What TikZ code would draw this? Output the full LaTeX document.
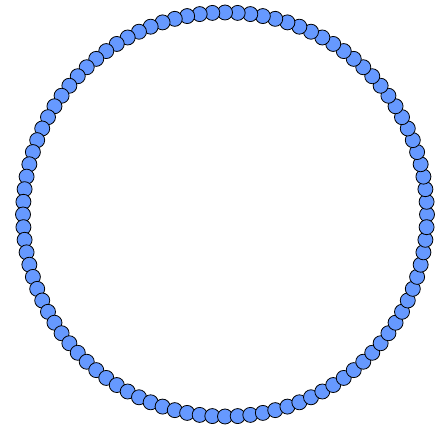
\documentclass[tikz,border=0pt]{standalone}
\usepackage{tikz}
\usetikzlibrary{calc}
\definecolor{beadBlue}{HTML}{6699FF}

\begin{document}
\begin{tikzpicture}[x=0.0264cm, y=0.0264cm,
    bead/.style={circle, draw=black, line width=0.6pt, fill=beadBlue, inner sep=0pt, minimum size=0.396cm}]
                \useasboundingbox (0,0) rectangle (446,427);
                \coordinate (ringCentre) at (225,212.5);
                \foreach \i in {0,...,99}
                    \node[bead] (bead\i) at ($(ringCentre)+({3.6*\i}:202)$) {};
            \end{tikzpicture}
\end{document}
